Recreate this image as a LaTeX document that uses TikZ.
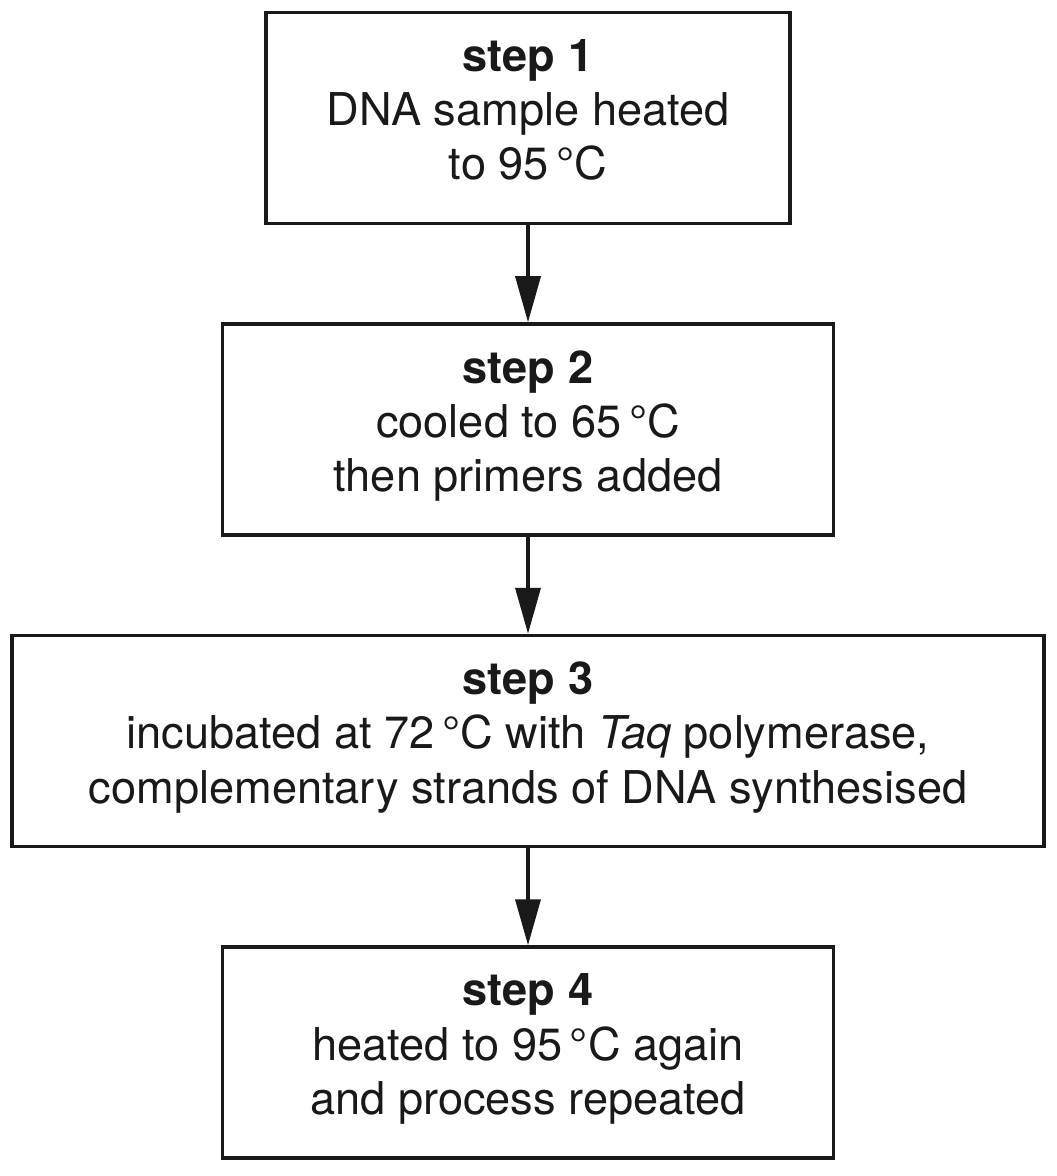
\documentclass[tikz,border=0pt]{standalone}
\usepackage{fontspec}
\setmainfont{TeX Gyre Heros}
\usepackage{xcolor}
\usepackage{tikz}
\usetikzlibrary{arrows.meta, positioning}

\begin{document}
\begin{tikzpicture}[
    node distance=0.97cm,
    stepbox/.style={rectangle, draw=black!90, line width=1pt, align=center,
                    minimum height=2.11cm, inner sep=0pt,
                    font=\fontsize{12.85}{15.4}\selectfont, text=black!90,
                    execute at end node={\rule[-0.17cm]{0pt}{0pt}}},
    flow/.style={-{Triangle[length=0.46cm, width=0.25cm]}, line width=1pt, draw=black!90}
  ]
    \useasboundingbox (0,0) rectangle (10.56,-11.76);

    % Steps
    \node[stepbox, minimum width=5.24cm] (s1) at (5.28,-1.18)
        {\textbf{step 1}\\DNA sample heated\\to 95\,°C};
    \node[stepbox, minimum width=6.11cm, below=of s1] (s2)
        {\textbf{step 2}\\cooled to 65\,°C\\then primers added};
    \node[stepbox, minimum width=10.32cm, below=of s2] (s3)
        {\textbf{step 3}\\incubated at 72\,°C with \textit{Taq} polymerase,\\complementary strands of DNA synthesised};
    \node[stepbox, minimum width=6.11cm, below=of s3] (s4)
        {\textbf{step 4}\\heated to 95\,°C again\\and process repeated};

    % Arrows
    \draw[flow] (s1) -- (s2);
    \draw[flow] (s2) -- (s3);
    \draw[flow] (s3) -- (s4);
\end{tikzpicture}
\end{document}
